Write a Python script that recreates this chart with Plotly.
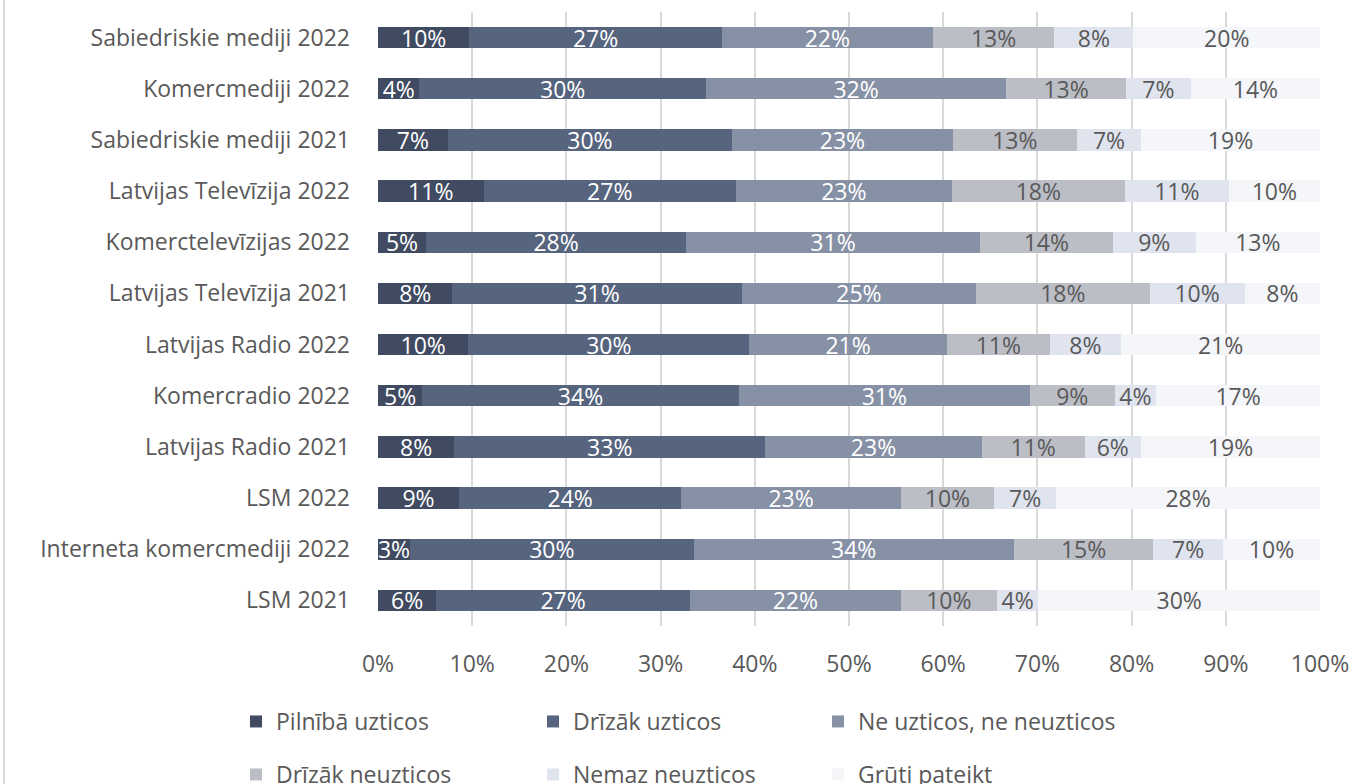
import plotly.graph_objects as go

categories = [
    "Sabiedriskie mediji 2022",
    "Komercmediji 2022",
    "Sabiedriskie mediji 2021",
    "Latvijas Televīzija 2022",
    "Komerctelevīzijas 2022",
    "Latvijas Televīzija 2021",
    "Latvijas Radio 2022",
    "Komercradio 2022",
    "Latvijas Radio 2021",
    "LSM 2022",
    "Interneta komercmediji 2022",
    "LSM 2021",
]

series_names = [
    "Pilnībā uzticos",
    "Drīzāk uzticos",
    "Ne uzticos, ne neuzticos",
    "Drīzāk neuzticos",
    "Nemaz neuzticos",
    "Grūti pateikt",
]

pilniba_uzticos = [9.7, 4.4, 7.4, 11.2, 5.1, 7.9, 9.6, 4.7, 8.1, 8.6, 3.4, 6.2]
drizak_uzticos = [26.8, 30.4, 30.2, 26.8, 27.6, 30.7, 29.8, 33.6, 33.0, 23.6, 30.1, 26.9]
ne_ne = [22.4, 31.9, 23.4, 22.9, 31.2, 24.9, 21.0, 30.9, 23.0, 23.3, 34.0, 22.4]
drizak_neuzticos = [12.9, 12.7, 13.2, 18.4, 14.1, 18.4, 10.9, 9.0, 10.9, 9.9, 14.8, 10.2]
nemaz_neuzticos = [8.4, 6.9, 6.8, 11.0, 8.8, 10.1, 7.6, 4.4, 6.0, 6.6, 7.4, 4.4]
gruti_pateikt = [19.8, 13.7, 19.0, 9.7, 13.2, 8.0, 21.1, 17.4, 19.0, 28.0, 10.3, 29.9]

values = [pilniba_uzticos, drizak_uzticos, ne_ne, drizak_neuzticos, nemaz_neuzticos, gruti_pateikt]
colors = ["#404a60", "#56647e", "#8791a5", "#bcbec6", "#e0e4ef", "#f5f6f9"]
text_colors = ["#ffffff", "#ffffff", "#ffffff", "#595959", "#595959", "#595959"]

FONT = "Open Sans"
FS = 23
W, H = 1355, 784

# legend layout (pixel positions of each single-item legend box, top-left)
legend_x_px = [236, 533, 818, 236, 533, 818]
legend_y_px = [700, 700, 700, 753, 753, 753]

fig = go.Figure()
for i, (name, vals) in enumerate(zip(series_names, values)):
    fig.add_trace(go.Bar(
        y=categories,
        x=vals,
        name=name,
        orientation="h",
        marker=dict(color=colors[i], line=dict(width=0)),
        text=[f"{int(v + 0.5)}%" for v in vals],
        textposition="inside",
        insidetextanchor="middle",
        textangle=0,
        textfont=dict(family=FONT, size=FS, color=text_colors[i]),
        legend="legend" if i == 0 else f"legend{i + 1}",
        showlegend=True,
        hoverinfo="skip",
    ))

legends = {}
for i in range(6):
    key = "legend" if i == 0 else f"legend{i + 1}"
    legends[key] = dict(
        visible=True,
        orientation="h",
        xref="container", yref="container",
        x=legend_x_px[i] / W, xanchor="left",
        y=1 - legend_y_px[i] / H, yanchor="top",
        itemwidth=30,
        font=dict(family=FONT, size=FS, color="#595959"),
        bgcolor="rgba(0,0,0,0)",
    )

fig.update_layout(
    showlegend=True,
    barmode="stack",
    bargap=0.58,
    width=W,
    height=H,
    margin=dict(l=378, r=35, t=12, b=158),
    plot_bgcolor="white",
    paper_bgcolor="white",
    font=dict(family=FONT, size=FS, color="#595959"),
    uniformtext=dict(minsize=FS, mode="show"),
    xaxis=dict(
        range=[0, 100],
        tickvals=[0, 10, 20, 30, 40, 50, 60, 70, 80, 90, 100],
        ticktext=["0%", "10%", "20%", "30%", "40%", "50%", "60%", "70%", "80%", "90%", "100%"],
        showgrid=True,
        gridcolor="#d9d9d9",
        gridwidth=2,
        zeroline=False,
        showline=False,
        ticks="",
        ticklabelstandoff=22,
        tickfont=dict(family=FONT, size=FS, color="#595959"),
        fixedrange=True,
        automargin=False,
    ),
    yaxis=dict(
        autorange="reversed",
        showgrid=False,
        ticks="",
        ticklabelstandoff=27,
        tickfont=dict(family=FONT, size=FS, color="#595959"),
        fixedrange=True,
        automargin=False,
    ),
    shapes=[dict(
        type="line", xref="paper", yref="paper",
        x0=-0.397, x1=-0.397, y0=1.03, y1=-0.3,
        line=dict(color="#d9d9d9", width=2),
    )],
    **legends,
)

fig.write_html("out.html")
